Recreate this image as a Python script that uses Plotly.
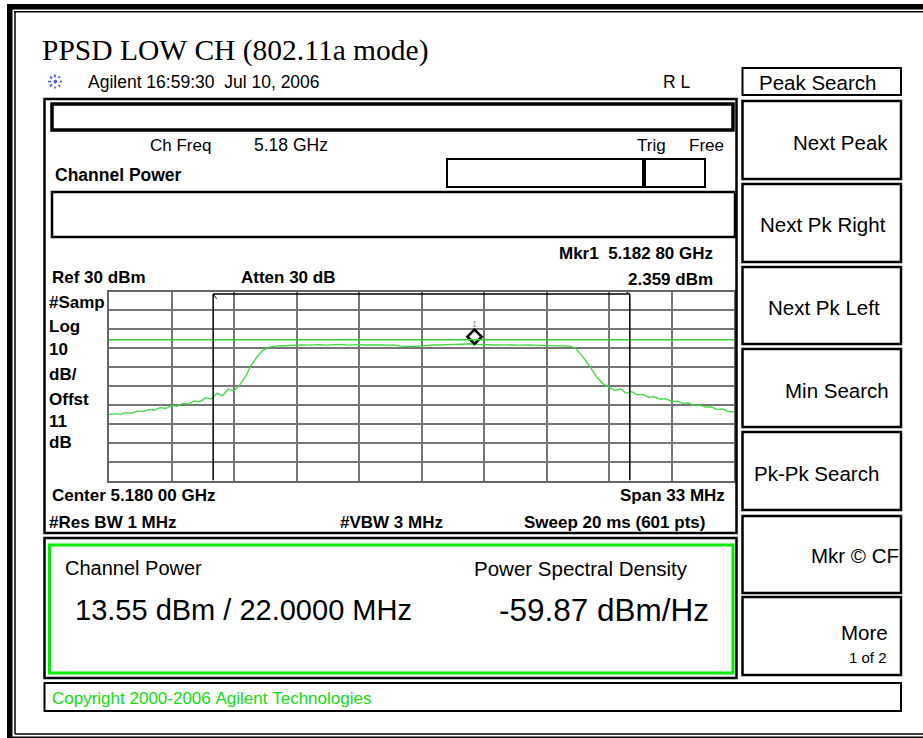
import plotly.graph_objects as go

center_mhz = 5180.0
span_mhz = 33.0
ref_level_dbm = 30.0
db_per_div = 10.0
channel_bw_mhz = 22.0
display_line_dbm = 4.5

freq_mhz = [
    5163.5, 5163.8, 5164.1, 5164.4, 5164.7, 5165.0, 5165.3, 5165.6, 5165.9, 5166.2,
    5166.5, 5166.8, 5167.1, 5167.4, 5167.7, 5168.0, 5168.3, 5168.6, 5168.9, 5169.2,
    5169.5, 5169.8, 5170.1, 5170.4, 5170.7, 5171.0, 5171.3, 5171.6, 5171.9, 5172.2,
    5172.5, 5172.8, 5173.1, 5173.4, 5173.7, 5174.0, 5174.3, 5174.6, 5174.9, 5175.2,
    5175.5, 5175.8, 5176.1, 5176.4, 5176.7, 5177.0, 5177.3, 5177.6, 5177.9, 5178.2,
    5178.5, 5178.8, 5179.1, 5179.4, 5179.7, 5180.0, 5180.3, 5180.6, 5180.9, 5181.2,
    5181.5, 5181.8, 5182.1, 5182.4, 5182.7, 5183.0, 5183.3, 5183.6, 5183.9, 5184.2,
    5184.5, 5184.8, 5185.1, 5185.4, 5185.7, 5186.0, 5186.3, 5186.6, 5186.9, 5187.2,
    5187.5, 5187.8, 5188.1, 5188.4, 5188.7, 5189.0, 5189.3, 5189.6, 5189.9, 5190.2,
    5190.5, 5190.8, 5191.1, 5191.4, 5191.7, 5192.0, 5192.3, 5192.6, 5192.9, 5193.2,
    5193.5, 5193.8, 5194.1, 5194.4, 5194.7, 5195.0, 5195.3, 5195.6, 5195.9, 5196.2,
    5196.5,
]
level_dbm = [
    -35.2, -34.6, -35.0, -34.1, -34.3, -33.2, -33.6, -32.4, -32.7, -31.5,
    -31.9, -30.3, -30.8, -29.2, -29.6, -27.9, -28.4, -26.2, -26.9, -23.8,
    -25.1, -21.6, -22.8, -19.4, -15.2, -9.1, -4.8, -1.4, 0.5, 1.0,
    1.4, 1.3, 1.6, 1.5, 1.8, 1.6, 1.7, 1.9, 1.6, 1.8,
    1.7, 2.0, 1.6, 1.8, 1.9, 1.7, 1.8, 1.5, 1.7, 1.6,
    1.8, 1.2, 0.9, 0.8, 1.0, 1.3, 1.6, 1.8, 1.7, 1.9,
    1.8, 2.0, 2.1, 2.2, 2.36, 2.0, 1.8, 1.9, 1.7, 1.8,
    1.9, 1.7, 1.6, 1.8, 1.7, 1.6, 1.5, 1.6, 1.4, 1.5,
    1.3, 1.1, 0.2, -3.0, -7.0, -11.6, -15.8, -18.9, -20.6, -22.4,
    -21.5, -23.9, -23.0, -24.7, -24.4, -26.0, -25.6, -27.0, -26.7, -28.3,
    -28.0, -29.2, -28.9, -30.3, -30.1, -31.2, -31.0, -32.4, -32.1, -33.5,
    -33.7,
]
marker_freq_mhz = [5182.8]
marker_level_dbm = [2.359]

softkey_labels = ["Next Peak", "Next Pk Right", "Next Pk Left", "Min Search",
                  "Pk-Pk Search", "Mkr \u00a9 CF", "More"]

# ---------------- layout helpers (pixel -> paper) ----------------
W, H = 923, 738
SANS = "Arial, Liberation Sans, sans-serif"
SERIF = "Times New Roman, Liberation Serif, serif"


def px(x):
    return x / W


def py(y):
    return 1 - y / H


shapes = []
annotations = []


def rect(x0, y0, x1, y1, color="black", width=2, fill=None):
    shapes.append(dict(type="rect", xref="paper", yref="paper",
                       x0=px(x0), x1=px(x1), y0=py(y0), y1=py(y1),
                       line=dict(color=color, width=width),
                       fillcolor=fill if fill else "rgba(0,0,0,0)", layer="above"))


def hline(x0, x1, y, color="black", width=1, dash="solid"):
    shapes.append(dict(type="line", xref="paper", yref="paper",
                       x0=px(x0), x1=px(x1), y0=py(y), y1=py(y),
                       line=dict(color=color, width=width, dash=dash)))


def seg(x0, y0, x1, y1, color="black", width=1, dash="solid"):
    shapes.append(dict(type="line", xref="paper", yref="paper",
                       x0=px(x0), x1=px(x1), y0=py(y0), y1=py(y1),
                       line=dict(color=color, width=width, dash=dash)))


def txt(x, y, s, size=17, anchor="left", bold=False, color="black", family=SANS):
    annotations.append(dict(xref="paper", yref="paper", x=px(x), y=py(y),
                            text=s.replace(" ", "\u00a0"), showarrow=False,
                            xanchor=anchor, yanchor="middle",
                            font=dict(family=family, size=size, color=color,
                                      weight="bold" if bold else "normal")))


# outer double frame
rect(7, 4, 925, 9.5, color="black", width=0, fill="black")
rect(7, 4, 12.5, 742, color="black", width=0, fill="black")
rect(7, 736.5, 925, 742, color="black", width=0, fill="black")
hline(14, 925, 11.8, width=1.5)
seg(15, 11.8, 15, 734, width=1.5)
hline(15, 925, 734, width=1.5)

# header
txt(40, 50, "PPSD LOW CH (802.11a mode)", size=29.5, family=SERIF)
cx, cy, r = 55, 81.5, 7
for dx, dy in [(1, 0), (0, 1), (0.72, 0.72), (0.72, -0.72)]:
    seg(cx - r * dx, cy - r * dy, cx + r * dx, cy + r * dy, color="#3a4bff", width=1.6, dash="dot")
txt(86, 82, "Agilent 16:59:30  Jul 10, 2006", size=17.5)
txt(693, 82, "R L", size=17.5, anchor="right")

# analyzer display outline and status boxes
rect(44.5, 99, 736.5, 533, width=2.5)
rect(52, 104, 733, 130, width=3.5)
txt(148, 145, "Ch Freq", size=17)
txt(252, 145, "5.18 GHz", size=17.5)
txt(635, 145, "Trig", size=17)
txt(687, 145, "Free", size=17)
rect(447, 159, 705, 187, width=2)
seg(644, 159, 644, 187, width=4)
txt(53, 175, "Channel Power", size=17.5, bold=True)
rect(52, 192, 735, 237, width=2.5)

txt(715, 253, "Mkr1  5.182 80 GHz", size=17, anchor="right", bold=True)
txt(50, 278, "Ref 30 dBm", size=17, bold=True)
txt(239, 278, "Atten 30 dB", size=17, bold=True)
txt(715, 279, "2.359 dBm", size=17, anchor="right", bold=True)
for s, y in [("#Samp", 302), ("Log", 326), ("10", 349), ("dB/", 374),
             ("Offst", 399), ("11", 421), ("dB", 442)]:
    txt(47, y, s, size=17, bold=True)

txt(50, 495, "Center 5.180 00 GHz", size=17, bold=True)
txt(727, 495, "Span 33 MHz", size=17, anchor="right", bold=True)
txt(47, 522, "#Res BW 1 MHz", size=17, bold=True)
txt(338, 522, "#VBW 3 MHz", size=17, bold=True)
txt(707, 522, "Sweep 20 ms (601 pts)", size=17, anchor="right", bold=True)

# channel power result area
rect(44.5, 538, 736.5, 678, width=2.5)
rect(49.5, 545, 733, 673, color="#00ee00", width=3)
txt(63, 568, "Channel Power", size=20)
txt(472, 568, "Power Spectral Density", size=20.5)
txt(73, 610, "13.55 dBm / 22.0000 MHz", size=29)
txt(497, 610, "-59.87 dBm/Hz", size=31.5)

# copyright bar
rect(44.5, 683, 901, 711, width=2)
txt(50, 698, "Copyright 2000-2006 Agilent Technologies", size=17, color="#11dd11")

# softkeys
rect(742.5, 68, 901, 95, width=2)
txt(817, 82, "Peak Search", size=20.5, anchor="center")
key_boxes = [(101, 179), (184, 262), (267, 344), (349, 427),
             (432, 510), (516, 593), (597, 675)]
key_text = [(890, 142, "right"), (758, 224, "left"), (882, 307, "right"),
            (891, 390, "right"), (752, 473, "left"), (901, 555, "right"),
            (890, 632, "right")]
for (y0, y1), (tx, ty, anc), lab in zip(key_boxes, key_text, softkey_labels):
    rect(742.5, y0, 901, y1, width=2.5)
    txt(tx, ty, lab, size=20.5, anchor=anc)
txt(889, 657, "1 of 2", size=15, anchor="right")

# ---------------- spectrum plot ----------------
x_lo = center_mhz - span_mhz / 2
x_hi = center_mhz + span_mhz / 2
y_lo = ref_level_dbm - 10 * db_per_div
bracket_level = ref_level_dbm - 0.13 * db_per_div
edge_l = center_mhz - channel_bw_mhz / 2
edge_r = center_mhz + channel_bw_mhz / 2

fig = go.Figure()
fig.add_trace(go.Scatter(x=freq_mhz, y=level_dbm, mode="lines",
                         line=dict(color="#3fd83f", width=1.3), hoverinfo="skip"))
fig.add_trace(go.Scatter(x=marker_freq_mhz,
                         y=[v + 0.37 * db_per_div for v in marker_level_dbm],
                         mode="markers+text", text=["1"], textposition="top center",
                         textfont=dict(size=9, color="#999999", family=SANS),
                         marker=dict(symbol="diamond-open", size=11, color="black",
                                     line=dict(width=2.5, color="black")),
                         hoverinfo="skip"))

data_shapes = [
    dict(type="line", xref="x", yref="y", x0=x_lo, x1=x_hi,
         y0=display_line_dbm, y1=display_line_dbm,
         line=dict(color="#33cc33", width=1.5)),
    dict(type="line", xref="x", yref="y", x0=edge_l, x1=edge_l,
         y0=y_lo, y1=bracket_level, line=dict(color="black", width=1.5)),
    dict(type="line", xref="x", yref="y", x0=edge_r, x1=edge_r,
         y0=y_lo, y1=bracket_level, line=dict(color="black", width=1.5)),
    dict(type="line", xref="x", yref="y", x0=edge_l, x1=edge_r,
         y0=bracket_level, y1=bracket_level, line=dict(color="black", width=1.5)),
    dict(type="line", xref="x", yref="y", x0=edge_l, x1=edge_l + 0.18,
         y0=bracket_level, y1=bracket_level - 0.25 * db_per_div,
         line=dict(color="black", width=1)),
    dict(type="line", xref="x", yref="y", x0=edge_r, x1=edge_r - 0.18,
         y0=bracket_level, y1=bracket_level + 0.1 * db_per_div,
         line=dict(color="black", width=1)),
]

grid = dict(showgrid=True, gridcolor="#767676", gridwidth=1.5, zeroline=False,
            showticklabels=False, ticks="", showline=True, mirror=True,
            linecolor="#666666", linewidth=2)

fig.update_layout(
    width=W, height=H,
    margin=dict(l=0, r=0, t=0, b=0, pad=0),
    paper_bgcolor="white", plot_bgcolor="white",
    showlegend=False,
    xaxis=dict(domain=[px(109), px(734)], range=[x_lo, x_hi], tick0=x_lo,
               dtick=span_mhz / 10, **grid),
    yaxis=dict(domain=[py(480.5), py(291.5)], range=[y_lo, ref_level_dbm],
               tick0=ref_level_dbm, dtick=db_per_div, **grid),
    shapes=data_shapes + shapes,
    annotations=annotations,
)

fig.write_html("out.html", config={"displayModeBar": False},
               post_script="document.body.style.margin='0px';document.body.style.overflow='hidden';")
